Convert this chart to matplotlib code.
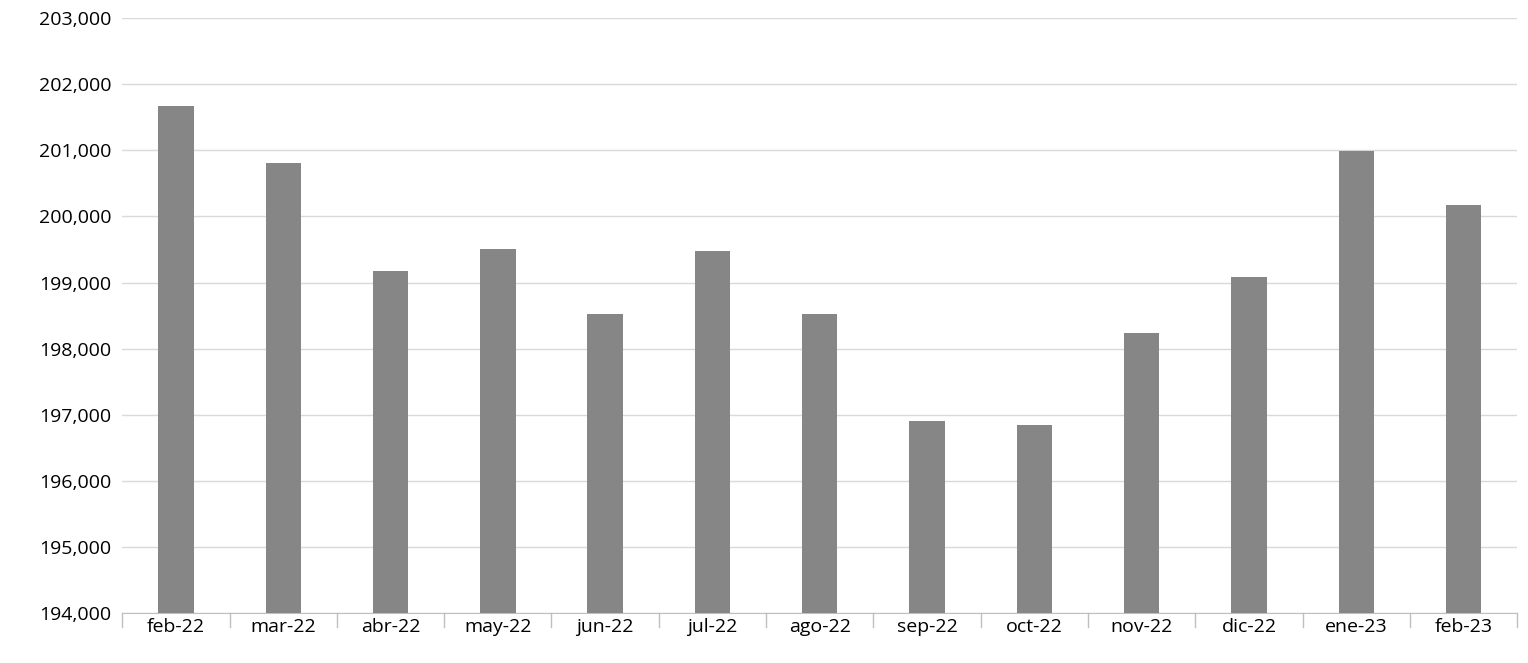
import matplotlib.pyplot as plt
from matplotlib.ticker import FuncFormatter

months = ["feb-22", "mar-22", "abr-22", "may-22", "jun-22", "jul-22", "ago-22",
          "sep-22", "oct-22", "nov-22", "dic-22", "ene-23", "feb-23"]
values = [201670, 200806, 199173, 199505, 198522, 199475, 198522,
          196903, 196843, 198235, 199082, 200988, 200171]

plt.rcParams['font.family'] = ['Open Sans', 'DejaVu Sans']
fig, ax = plt.subplots(figsize=(15.28, 6.63), dpi=100)
fig.subplots_adjust(left=0.08, right=0.993, top=0.973, bottom=0.075)

x = range(len(months))
ax.bar(x, values, width=0.33, color="#868686", zorder=3)
ax.set_ylim(194000, 203000)
ax.set_yticks(range(194000, 203001, 1000))
ax.yaxis.set_major_formatter(FuncFormatter(lambda v, p: f"{int(v):,}"))
ax.set_xlim(-0.5, len(months) - 0.5)
ax.set_xticks(list(x))
ax.set_xticklabels(months)
ax.tick_params(axis="both", labelsize=14, length=0)
ax.tick_params(axis="y", pad=8)
ax.grid(axis="y", color="#d9d9d9", linewidth=1, zorder=0)
for s in ["top", "right", "left"]:
    ax.spines[s].set_visible(False)
ax.spines["bottom"].set_color("#bfbfbf")
# small tick marks between categories
for i in range(len(months) + 1):
    ax.plot([i - 0.5, i - 0.5], [194000, 193800], color="#bfbfbf", lw=1, clip_on=False)

fig.savefig("out.png")
